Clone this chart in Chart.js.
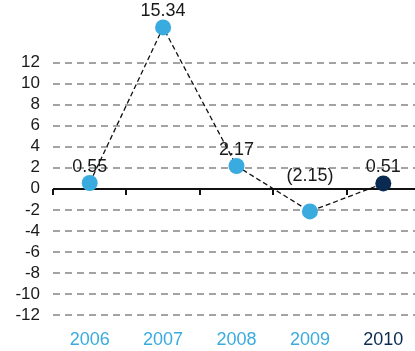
<!DOCTYPE html>
<html>
<head>
<meta charset="utf-8">
<script src="https://cdn.jsdelivr.net/npm/chart.js@4/dist/chart.umd.min.js"></script>
<style>
  html, body { margin: 0; padding: 0; background: #fff; overflow: hidden; }
  canvas { display: block; }
</style>
</head>
<body>
<canvas id="c" width="420" height="351"></canvas>
<script>
// Annual values, 2006–2010
const years = ['2006', '2007', '2008', '2009', '2010'];
const values = [0.55, 15.34, 2.17, -2.15, 0.51];

const LIGHT = '#3aabdf';
const NAVY = '#0b2a52';
const pointColors = years.map((y, i) => i === years.length - 1 ? NAVY : LIGHT);
const FONT = "'Liberation Sans', Arial, Helvetica, sans-serif";

// Negative values are shown in parentheses
const fmt = v => v < 0 ? '(' + Math.abs(v).toFixed(2) + ')' : v.toFixed(2);

// Solid zero line with tick marks at the category boundaries
const zeroAxis = {
  id: 'zeroAxis',
  beforeDatasetsDraw(chart) {
    const { ctx, chartArea, scales: { x, y } } = chart;
    const y0 = Math.round(y.getPixelForValue(0));
    ctx.save();
    ctx.strokeStyle = '#111';
    ctx.lineWidth = 2;
    ctx.beginPath();
    ctx.moveTo(chartArea.left, y0);
    ctx.lineTo(chartArea.right, y0);
    ctx.stroke();
    const step = x.getPixelForValue(1) - x.getPixelForValue(0);
    for (let k = 0; k <= years.length; k++) {
      const px = Math.round(x.getPixelForValue(0) - step / 2 + k * step);
      ctx.beginPath();
      ctx.moveTo(px, y0);
      ctx.lineTo(px, y0 + 6);
      ctx.stroke();
    }
    ctx.restore();
  }
};

// Value labels above each point; negative values sit just above the zero line
const valueLabels = {
  id: 'valueLabels',
  afterDatasetsDraw(chart) {
    const { ctx, scales: { y } } = chart;
    const meta = chart.getDatasetMeta(0);
    const y0 = y.getPixelForValue(0);
    ctx.save();
    ctx.font = '18px ' + FONT;
    ctx.fillStyle = '#1a1a1a';
    ctx.textAlign = 'center';
    ctx.textBaseline = 'middle';
    meta.data.forEach((pt, i) => {
      const v = values[i];
      const ly = v < 0 ? y0 - 13 : pt.y - 16;
      ctx.fillText(fmt(v), pt.x, ly);
    });
    ctx.restore();
  }
};

new Chart(document.getElementById('c'), {
  type: 'line',
  data: {
    labels: years,
    datasets: [{
      data: values,
      borderColor: '#111',
      borderWidth: 1.3,
      borderDash: [5, 3],
      pointRadius: 8,
      pointHoverRadius: 8,
      pointBorderWidth: 0,
      pointBackgroundColor: pointColors,
      pointBorderColor: pointColors,
      tension: 0,
      clip: false
    }]
  },
  options: {
    responsive: false,
    animation: false,
    events: [],
    layout: { autoPadding: false, padding: { top: 10, right: 0, bottom: 0, left: 0 } },
    plugins: { legend: { display: false }, tooltip: { enabled: false } },
    scales: {
      x: {
        offset: true,
        grid: { display: false, drawTicks: false },
        border: { display: false },
        ticks: {
          padding: 14,
          font: { size: 18, family: FONT },
          color: ctx => ctx.index === years.length - 1 ? NAVY : LIGHT
        },
        afterFit: s => { s.height = 36; s.paddingLeft = 0; s.paddingRight = 0; }
      },
      y: {
        min: -12,
        max: 17,
        grid: {
          drawTicks: false,
          lineWidth: 2,
          color: ctx => (ctx.tick && (ctx.tick.value > 12 || ctx.tick.value === 0)) ? 'rgba(0,0,0,0)' : '#a3a3a3'
        },
        border: { display: false, dash: [7, 5] },
        ticks: {
          stepSize: 2,
          autoSkip: false,
          padding: 13,
          font: { size: 17, family: FONT },
          color: '#1a1a1a',
          callback: v => v <= 12 ? String(v) : ''
        },
        afterFit: s => { s.width = 53; s.paddingTop = 0; s.paddingBottom = 0; }
      }
    }
  },
  plugins: [zeroAxis, valueLabels]
});
</script>
</body>
</html>
